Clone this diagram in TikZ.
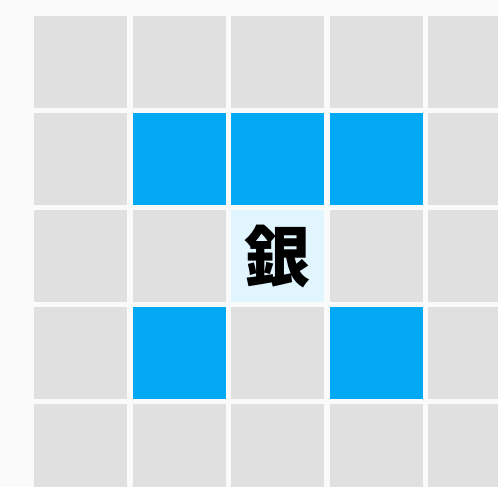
\documentclass[tikz,border=0pt]{standalone}
\usepackage{fontspec}
\newfontfamily\cjk{Noto Sans CJK JP}
\usetikzlibrary{positioning}
\definecolor{bgcol}{HTML}{FAFAFA}
\definecolor{cellgray}{HTML}{E0E0E0}
\definecolor{moveblue}{HTML}{03A9F4}
\definecolor{pieceblue}{HTML}{E1F5FE}

\begin{document}
\begin{tikzpicture}[
    x=1pt, y=-1pt,
    cell/.style={fill=cellgray, draw=none, minimum width=93pt, minimum height=92pt, inner sep=0pt, anchor=north west},
    movecell/.style={cell, fill=moveblue},
    piececell/.style={cell, fill=pieceblue, font=\cjk\bfseries\fontsize{66}{66}\selectfont}
  ]
    \useasboundingbox (0,0) rectangle (498,487);
    \fill[bgcol] (0,0) rectangle (498,487);
    \clip (0,0) rectangle (498,487);
    % board
    \foreach \c in {0,...,4}
      \foreach \r in {0,...,4}
        \node[cell] (c-\c-\r) at ({34+98.5*\c},{16+97*\r}) {};
    % silver general moves
    \foreach \c/\r in {1/1,2/1,3/1,1/3,3/3}
      \node[movecell] (m-\c-\r) at ({34+98.5*\c},{16+97*\r}) {};
    \node[piececell] (silver) at ({34+98.5*2},{16+97*2}) {銀};
\end{tikzpicture}
\end{document}
